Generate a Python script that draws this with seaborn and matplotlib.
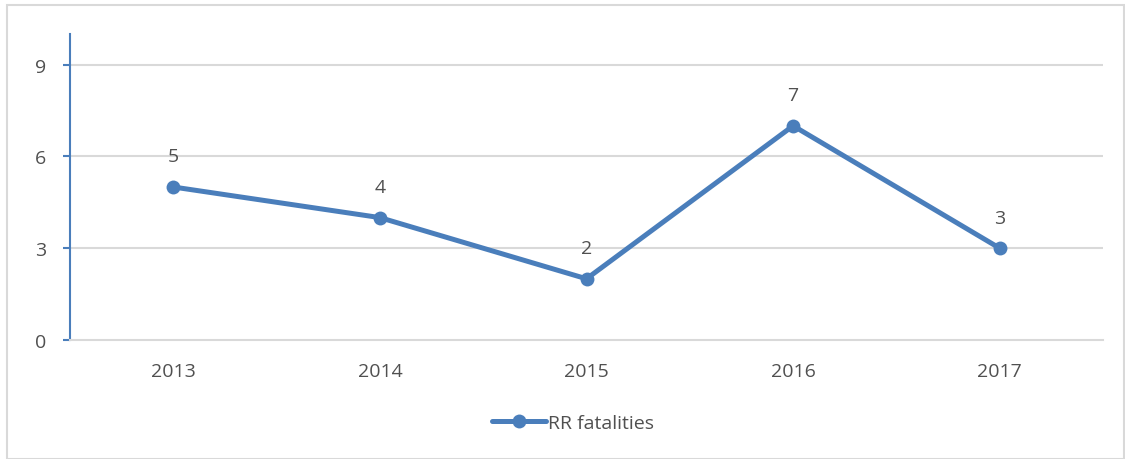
import pandas as pd
import matplotlib.pyplot as plt
import seaborn as sns
from matplotlib.patches import Rectangle

years = ["2013", "2014", "2015", "2016", "2017"]
fatalities = [5, 4, 2, 7, 3]
y_ticks = [0, 3, 6, 9]

df = pd.DataFrame({"year": years, "RR fatalities": fatalities})

sns.set_style("white")
plt.rcParams["font.family"] = ["Open Sans", "DejaVu Sans"]

blue = "#4A7EBB"
text_col = "#505050"
grid_col = "#D9D9D9"
fs = 14

fig = plt.figure(figsize=(11.25, 4.6), dpi=100)
ax = fig.add_axes([70 / 1125, 1 - 341 / 460, (1103 - 70) / 1125, (341 - 35) / 460])

sns.lineplot(x="year", y="RR fatalities", data=df, ax=ax, color=blue, linewidth=3.6,
             marker="o", markersize=10, markeredgewidth=0, label="RR fatalities", sort=False)

# data labels above each point
for i, v in enumerate(fatalities):
    ax.annotate(str(v), (i, v), xytext=(0, 22), textcoords="offset points",
                ha="center", va="center", fontsize=fs, color=text_col)

ax.set_xlim(-0.5, len(years) - 0.5)
ax.set_ylim(0, 10)
ax.set_yticks(y_ticks)
ax.set_xlabel("")
ax.set_ylabel("")
for y in y_ticks[1:]:
    ax.axhline(y, color=grid_col, linewidth=1.5, zorder=0)

for s in ["top", "right"]:
    ax.spines[s].set_visible(False)
ax.spines["left"].set_color(blue)
ax.spines["left"].set_linewidth(1.5)
ax.spines["bottom"].set_color(grid_col)
ax.spines["bottom"].set_linewidth(1.5)

ax.tick_params(axis="y", which="both", left=True, length=5, width=1.5, color=blue,
               labelsize=fs, labelcolor=text_col, pad=12)
ax.tick_params(axis="x", bottom=False, labelsize=fs, labelcolor=text_col, pad=12)

leg = ax.legend(loc="center", bbox_to_anchor=(573 / 1125, 1 - 424 / 460),
                bbox_transform=fig.transFigure, frameon=False, fontsize=fs,
                handlelength=2.8, handletextpad=0.1)
for t in leg.get_texts():
    t.set_color(text_col)

fig.patches.append(Rectangle((7 / 1125, 0), 1117 / 1125, 1 - 6 / 460, transform=fig.transFigure,
                             fill=False, edgecolor="#D9D9D9", linewidth=1.5))

plt.savefig("out.png", dpi=100)
